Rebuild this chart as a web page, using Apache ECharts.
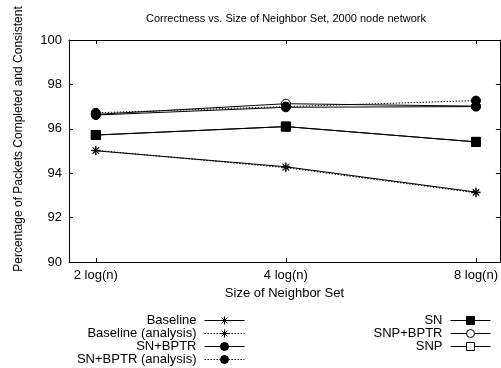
<!DOCTYPE html>
<html>
<head>
<meta charset="utf-8">
<script src="https://cdn.jsdelivr.net/npm/echarts@6/dist/echarts.min.js"></script>
<style>html,body{margin:0;padding:0;background:#fff}#c{width:501px;height:368px}</style>
</head>
<body>
<div id="c"></div>
<script>
const categories = ['2 log(n)', '4 log(n)', '8 log(n)'];
const yTicks = [90, 92, 94, 96, 98, 100];
const baseline = [95.01, 94.29, 93.15];
const baselineAnalysis = [95.03, 94.25, 93.12];
const snBptr = [96.62, 96.97, 97.0];
const snBptrAnalysis = [96.72, 97.0, 97.27];
const sn = [95.72, 96.10, 95.41];
const snpBptr = [96.65, 97.13, 97.02];
const snp = [95.72, 96.10, 95.41];

const FONT = '"Liberation Sans", Arial, Helvetica, sans-serif';
const STAR = 'path://M5,0L5,10M0,5L10,5M1.5,1.5L8.5,8.5M8.5,1.5L1.5,8.5';

function pts(arr) { return arr.map((v, i) => [i, v]); }
function mk(name, data, symbol, fill, dotted) {
  return {
    name, type: 'line', data: pts(data), symbol, symbolSize: 9,
    lineStyle: { color: '#000', width: 1, type: dotted ? [1.5, 1.5] : 'solid' },
    itemStyle: { color: fill, borderColor: '#000', borderWidth: 1 },
    emphasis: { disabled: true }, animation: false, z: 2
  };
}

const specs = [
  ['SNP', snp, 'rect', '#fff', false],
  ['SNP+BPTR', snpBptr, 'circle', '#fff', false],
  ['Baseline', baseline, STAR, '#000', false],
  ['Baseline (analysis)', baselineAnalysis, STAR, '#000', true],
  ['SN', sn, 'rect', '#000', false],
  ['SN+BPTR', snBptr, 'circle', '#000', false],
  ['SN+BPTR (analysis)', snBptrAnalysis, 'circle', '#000', true]
];
const series = specs.map(s => mk(s[0], s[1], s[2], s[3], s[4]));

function leg(name, right, top) {
  const s = specs.find(x => x[0] === name);
  return {
    data: [name], right, top, align: 'right', orient: 'horizontal',
    itemWidth: 40, itemHeight: 10, padding: 0, selectedMode: false,
    itemStyle: { color: s[3], borderColor: '#000', borderWidth: 1 },
    lineStyle: { color: '#000', width: 1, type: s[4] ? [1.5, 1.5] : 'solid' },
    textStyle: { fontSize: 13, color: '#000', fontFamily: FONT, padding: [0, 3, 0, 0] }
  };
}

const xTickVals = categories.map((c, i) => i);
const axisCommonX = {
  type: 'value', min: -0.141, max: 2.126,
  axisLine: { show: true, onZero: false, lineStyle: { color: '#000', width: 1 } },
  splitLine: { show: false }
};

const chart = echarts.init(document.getElementById('c'), null, { renderer: 'canvas' });
chart.setOption({
  animation: false,
  backgroundColor: '#fff',
  title: {
    text: 'Correctness vs. Size of Neighbor Set, 2000 node network',
    left: 286, top: 13, textAlign: 'center', padding: 0,
    textStyle: { fontSize: 11, fontWeight: 'normal', color: '#000', fontFamily: FONT }
  },
  grid: { left: 69, right: -1, top: 40, bottom: 106, containLabel: false },
  xAxis: [
    Object.assign({}, axisCommonX, {
      position: 'bottom',
      name: 'Size of Neighbor Set', nameLocation: 'middle', nameGap: 24,
      nameTextStyle: { fontSize: 13, color: '#000', fontFamily: FONT },
      axisTick: { show: true, inside: true, length: 4, customValues: xTickVals, lineStyle: { color: '#000' } },
      axisLabel: { customValues: xTickVals, formatter: v => categories[v] || '', fontSize: 13, color: '#000', margin: 7, fontFamily: FONT }
    }),
    Object.assign({}, axisCommonX, {
      position: 'top',
      axisTick: { show: true, inside: true, length: 4, customValues: xTickVals, lineStyle: { color: '#000' } },
      axisLabel: { show: false }
    })
  ],
  yAxis: [
    {
      type: 'value', min: yTicks[0], max: yTicks[yTicks.length - 1], interval: 2, position: 'left',
      axisLine: { show: true, onZero: false, lineStyle: { color: '#000' } },
      axisTick: { show: true, inside: true, length: 4, lineStyle: { color: '#000' } },
      axisLabel: { fontSize: 13, color: '#000', margin: 7, fontFamily: FONT },
      splitLine: { show: false }
    },
    {
      type: 'value', min: yTicks[0], max: yTicks[yTicks.length - 1], interval: 2, position: 'right',
      axisLine: { show: true, onZero: false, lineStyle: { color: '#000' } },
      axisTick: { show: true, inside: true, length: 4, lineStyle: { color: '#000' } },
      axisLabel: { show: false },
      splitLine: { show: false }
    }
  ],
  graphic: [{
    type: 'text', x: 19, y: 139, rotation: Math.PI / 2,
    style: { text: 'Percentage of Packets Completed and Consistent', fontSize: 12, fill: '#000', fontFamily: FONT, textAlign: 'center', textVerticalAlign: 'middle' }
  }],
  legend: [
    leg('Baseline', 256, 314),
    leg('Baseline (analysis)', 256, 327),
    leg('SN+BPTR', 256, 340),
    leg('SN+BPTR (analysis)', 256, 353),
    leg('SN', 10, 314),
    leg('SNP+BPTR', 10, 327),
    leg('SNP', 10, 340)
  ],
  series
});
</script>
</body>
</html>
